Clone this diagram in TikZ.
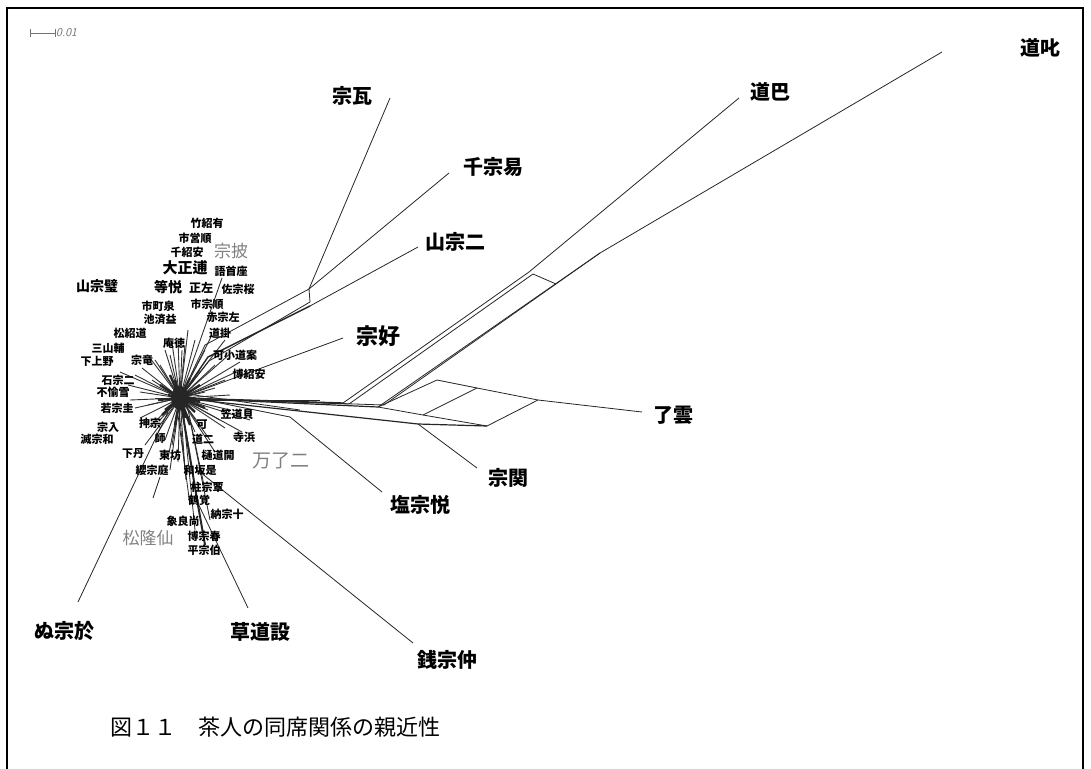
\documentclass[tikz,border=0pt]{standalone}
\usepackage{fontspec}
\newfontfamily\cjk{Noto Sans CJK JP}
\begin{document}
\begin{tikzpicture}[x=1pt,y=-1pt,
  big/.style={font=\cjk\bfseries\fontsize{20}{20}\selectfont, inner sep=0pt},
  mid/.style={font=\cjk\bfseries\fontsize{15}{15}\selectfont, inner sep=0pt},
  sm/.style={font=\cjk\bfseries\fontsize{11}{11}\selectfont, inner sep=0pt},
  gr/.style={font=\cjk\fontsize{17}{17}\selectfont, text=black!50, inner sep=0pt},
  ln/.style={line width=0.8pt, black!85},
  spoke/.style={line width=0.9pt, black!80}]
\useasboundingbox (0,0) rectangle (1091,768);
\draw[line width=1.1pt] (7,800) -- (7,8) -- (1083,8) -- (1083,800);

% scale bar
\coordinate (sb1) at (30,33); \coordinate (sb2) at (55,33);
\draw[black!55, line width=0.6pt] (sb1) -- (sb2) ([yshift=-4pt]sb1) -- ([yshift=4pt]sb1) ([yshift=-4pt]sb2) -- ([yshift=4pt]sb2);
\node[font=\sffamily\itshape\fontsize{12}{12}\selectfont, text=black!55, anchor=west, inner sep=0pt] (sbl) at (56,33) {0.01};

% junction coordinates
\coordinate (hub) at (180,398);
\coordinate (ja) at (205,345); \coordinate (jb) at (208,357); \coordinate (jc) at (209,361);
\coordinate (A) at (309,289); \coordinate (B) at (310,306);
\coordinate (wa) at (390,98); \coordinate (eki) at (449,173); \coordinate (ni) at (418,247);
\coordinate (kou) at (343,338);
\coordinate (ba1) at (343,403); \coordinate (ba2) at (349,404);
\coordinate (Pa) at (529,272); \coordinate (Pa2) at (533,274); \coordinate (Pc) at (556,284);
\coordinate (baE) at (739,98);
\coordinate (K) at (378,407); \coordinate (K2) at (384,405); \coordinate (J3) at (600,253);
\coordinate (sha) at (942,52);
\coordinate (Q1) at (437,380); \coordinate (Qb) at (477,388); \coordinate (Q2) at (538,400);
\coordinate (L1) at (423,415); \coordinate (L2) at (487,426); \coordinate (unE) at (642,412);
\coordinate (kan1) at (418,424); \coordinate (kanE) at (477,468);
\coordinate (en1) at (290,417); \coordinate (enE) at (382,492);
\coordinate (zen1) at (195,468); \coordinate (zenE) at (413,643);
\coordinate (sou1) at (195,497); \coordinate (souE) at (248,608);
\coordinate (nu1) at (168,412); \coordinate (nuE) at (78,602);
\coordinate (sp1) at (160,477); \coordinate (sp2) at (153,498);
\coordinate (st1) at (198,505); \coordinate (st2) at (205,545);

% hub spokes
\foreach \x/\y in {172/343,178/340,185/345,195/340,212/335,225/340,232/352,240/362,236/372,225/380,215/388,
  205/392,150/358,160/365,135/375,128/385,140/392,130/400,135/408,140/418,148/428,158/432,165/440,172/445,
  200/425,210/440,225/428,242/432,215/452,190/455,178/462,168/458,155/360,165/350,222/278,120/372,250/420,
  230/410,188/330,145/445,170/355,200/370,215/365,152/380,148/405,160/420,175/430,195/432,230/395,220/420,
  182/350,205/350,142/368,155/398,208/410,170/470,185/470}
  \draw[spoke] (hub) -- (\x,\y);
\foreach \x/\y in {160/385,200/385,165/410,195/412,175/380,185/418,168/395,195/398,170/375,190/378,
  158/400,200/402,175/425,190/425,205/408,162/415}
  \draw[line width=2.4pt, black!85] (hub) -- (\x,\y);
\fill[black!85] (hub) ellipse (9 and 12);

% stem down
\draw[line width=2pt, black!85] (hub) -- (st1) -- (st2);
\draw[ln] (176,400) -- (190,505); \draw[ln] (186,400) -- (205,490); \draw[ln] (190,420) -- (210,520);
\draw[ln] (182,400) -- (195,530); \draw[ln] (178,400) -- (186,480);
\draw[ln] (sp1) -- (sp2);

% up-right band to A/B
\draw[ln] (hub) -- (ja) -- (A);
\draw[ln, line width=1.4pt] (hub) -- (jb) -- (B);
\draw[ln] (hub) -- (jc) -- ([yshift=4pt]B);
\draw[ln] (A) -- ([yshift=4pt]B);
\draw[ln] (A) -- (wa);
\draw[ln] (A) -- (eki);
\draw[ln] (B) -- (ni);

% 宗好
\draw[ln] (hub) -- (kou);

% horizontal band
\draw[ln, line width=1.4pt] (hub) -- (ba1);
\draw[ln] (hub) -- (ba2);
\draw[ln, line width=1.2pt] (hub) -- (K);
\draw[ln] (hub) -- (K2);
\draw[ln, line width=1.2pt] (hub) -- (kan1) -- (L2);
\draw[ln] ([yshift=3pt]hub) -- (en1);
\draw[ln] ([yshift=5pt]hub) -- (300,410);
\draw[ln] ([yshift=-2pt]hub) -- (320,400);

% 道巴
\draw[ln] (ba1) -- (Pa); \draw[ln] (ba2) -- (Pa2);
\draw[ln] (Pa) -- (baE); \draw[ln] (Pa2) -- (Pc);
% 道叱
\draw[ln] (K) -- (J3); \draw[ln] (K2) -- (J3);
\draw[ln] (J3) -- (sha);
% 了雲 parallelograms
\draw[ln] (K) -- (Q1) -- (Qb) -- (Q2) -- (unE);
\draw[ln] (K) -- (L1) -- (L2) -- (Q2);
\draw[ln] (Qb) -- (L1);
% other leaves
\draw[ln] (kan1) -- (kanE);
\draw[ln] (en1) -- (enE);
\draw[ln] (zen1) -- (zenE);
\draw[ln] (sou1) -- (souE);
\draw[ln] (nu1) -- (nuE);

% big labels
\node[big] (n1) at (352,96) {宗瓦};
\node[big] (n2) at (493,167) {千宗易};
\node[big] (n3) at (455,242) {山宗二};
\node[big, font=\cjk\bfseries\fontsize{22}{22}\selectfont] (n4) at (378,336) {宗好};
\node[big] (n5) at (770,92) {道巴};
\node[big] (n6) at (1040,48) {道叱};
\node[big] (n7) at (673,415) {了雲};
\node[big] (n8) at (508,478) {宗関};
\node[big] (n9) at (420,505) {塩宗悦};
\node[big] (n10) at (447,660) {銭宗仲};
\node[big] (n11) at (260,632) {草道設};
\node[big] (n12) at (64,631) {ぬ宗於};

% gray labels
\node[gr] (g1) at (231,251) {宗披};
\node[gr, font=\cjk\fontsize{19}{19}\selectfont] (g2) at (281,461) {万了二};
\node[gr] (g3) at (148,538) {松隆仙};

% small labels
\node[sm] (s1) at (207,223) {竹紹有};
\node[sm] (s2) at (195,238) {市営順};
\node[sm] (s3) at (187,252) {千紹安};
\node[mid] (s4) at (185,268) {大正逋};
\node[mid, font=\cjk\bfseries\fontsize{14}{14}\selectfont] (s6) at (97,286) {山宗璧};
\node[mid, font=\cjk\bfseries\fontsize{14}{14}\selectfont] (s7) at (168,287) {等悦};
\node[sm] (s5) at (231,271) {語首座};
\node[sm, font=\cjk\bfseries\fontsize{12}{12}\selectfont] (s8) at (201,288) {正左};
\node[sm] (s9) at (238,289) {佐宗桜};
\node[sm] (s10) at (158,306) {市町泉};
\node[sm] (s11) at (207,304) {市宗順};
\node[sm] (s12) at (160,319) {池済益};
\node[sm] (s13) at (223,317) {赤宗左};
\node[sm] (s14) at (130,333) {松紹道};
\node[sm] (s15) at (220,333) {道掛};
\node[sm] (s16) at (174,343) {庵徳};
\node[sm] (s17) at (108,348) {三山輔};
\node[sm] (s18) at (97,361) {下上野};
\node[sm] (s19) at (142,360) {宗竜};
\node[sm] (s20) at (235,355) {可小道案};
\node[sm] (s21) at (249,374) {博紹安};
\node[sm] (s22) at (118,380) {石宗二};
\node[sm] (s23) at (113,392) {不愉雪};
\node[sm] (s24) at (117,408) {若宗圭};
\node[sm] (s25) at (237,414) {笠道貝};
\node[sm] (s26) at (108,427) {宗入};
\node[sm] (s27) at (150,423) {抻宗};
\node[sm] (s28) at (202,425) {可};
\node[sm] (s29) at (244,437) {寺浜};
\node[sm] (s30) at (97,439) {滅宗和};
\node[sm] (s31) at (160,438) {師};
\node[sm] (s32) at (203,439) {道二};
\node[sm] (s33) at (133,454) {下丹};
\node[sm] (s34) at (170,455) {東坊};
\node[sm] (s35) at (218,455) {樋道開};
\node[sm] (s36) at (152,470) {纓宗庭};
\node[sm] (s37) at (200,470) {和坂是};
\node[sm] (s38) at (207,487) {柱宗覃};
\node[sm] (s39) at (199,500) {鶴覚};
\node[sm] (s40) at (227,514) {納宗十};
\node[sm] (s41) at (183,521) {象良尚};
\node[sm] (s42) at (204,536) {博宗春};
\node[sm] (s43) at (204,550) {平宗伯};

% caption
\node[font=\cjk\fontsize{22}{22}\selectfont, anchor=west, inner sep=0pt] (cap) at (110,727) {図１１　茶人の同席関係の親近性};
\end{tikzpicture}
\end{document}
